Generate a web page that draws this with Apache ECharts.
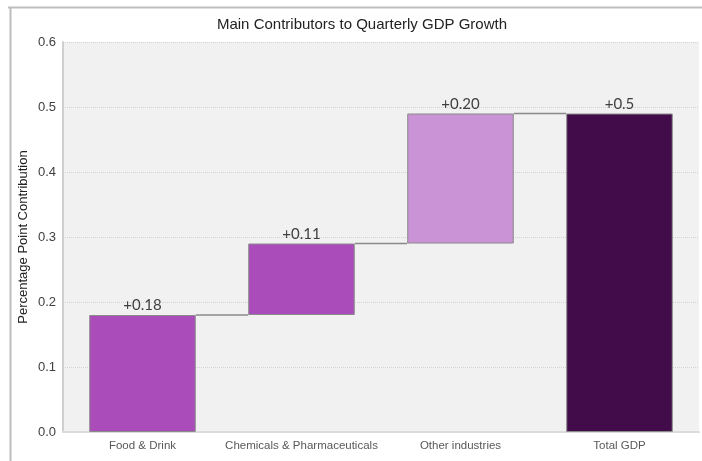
<!DOCTYPE html>
<html><head><meta charset="utf-8">
<script src="https://cdn.jsdelivr.net/npm/echarts@6/dist/echarts.min.js"></script>
<style>html,body{margin:0;padding:0;background:#fff}#c{width:702px;height:461px}</style>
</head><body><div id="c"></div>
<script>
const categories = ['Food & Drink', 'Chemicals & Pharmaceuticals', 'Other industries', 'Total GDP'];
const contributions = [0.18, 0.11, 0.20];
const totalValue = 0.49;
const labelTexts = ['+0.18', '+0.11', '+0.20', '+0.5'];
const barColors = ['#AA4DBA', '#AA4DBA', '#C993D5', '#420C4A'];
const yTicks = [0, 0.1, 0.2, 0.3, 0.4, 0.5, 0.6];

// waterfall bases and tops
const bases = [];
const heights = [];
let cum = 0;
contributions.forEach(v => { bases.push(cum); heights.push(v); cum += v; });
bases.push(0); heights.push(totalValue);
const tops = bases.map((b, i) => b + heights[i]);

const chart = echarts.init(document.getElementById('c'), null, {renderer: 'canvas'});
chart.setOption({
  animation: false,
  backgroundColor: '#fff',
  title: {
    text: 'Main Contributors to Quarterly GDP Growth',
    left: 357, top: 12, textAlign: 'center',
    textStyle: {fontFamily: 'Liberation Sans', fontSize: 15, fontWeight: 'normal', color: '#222'}
  },
  graphic: [
    {type: 'line', shape: {x1: 8, y1: 7.5, x2: 702, y2: 7.5}, style: {stroke: '#bdbdbd', lineWidth: 2}, z: 10},
    {type: 'line', shape: {x1: 10.5, y1: 7, x2: 10.5, y2: 461}, style: {stroke: '#bdbdbd', lineWidth: 2}, z: 10}
  ],
  grid: {left: 63, top: 42, right: 3, bottom: 29, show: true, backgroundColor: '#f1f1f1', borderWidth: 0},
  xAxis: {
    type: 'category', data: categories,
    axisLine: {show: true, lineStyle: {color: '#dcdcdc', width: 2}},
    axisTick: {show: false},
    axisLabel: {fontFamily: 'Liberation Sans', fontSize: 11.5, color: '#595959', margin: 8, interval: 0}
  },
  yAxis: {
    type: 'value', min: 0, max: 0.6, interval: 0.1,
    name: 'Percentage Point Contribution', nameLocation: 'middle', nameGap: 33, nameRotate: 90,
    nameMoveOverlap: false,
    nameTextStyle: {fontFamily: 'Liberation Sans', fontSize: 13, color: '#222'},
    axisLine: {show: true, lineStyle: {color: '#cfcfcf', width: 2}},
    axisTick: {show: false},
    axisLabel: {fontFamily: 'Liberation Sans', fontSize: 13, color: '#404040', margin: 7,
      formatter: v => v.toFixed(1)},
    splitLine: {show: true, lineStyle: {color: '#d2d2d2', type: 'dotted', width: 1}}
  },
  series: [
    {
      type: 'bar', stack: 'w', barWidth: '67%', silent: true,
      itemStyle: {color: 'transparent', borderWidth: 0},
      data: bases
    },
    {
      type: 'bar', stack: 'w', barWidth: '67%',
      data: heights.map((h, i) => ({value: h, itemStyle: {color: barColors[i]}})),
      itemStyle: {borderColor: '#8a8a8a', borderWidth: 1},
      label: {
        show: true, position: 'top', distance: 2,
        formatter: p => labelTexts[p.dataIndex],
        fontFamily: 'Lato', fontSize: 15, color: '#404040'
      }
    },
    {
      type: 'custom', z: 1,
      data: tops.slice(0, tops.length - 1).map((t, i) => [i, t]),
      renderItem: function (params, api) {
        const i = api.value(0), t = api.value(1);
        const p1 = api.coord([i, t]);
        const p2 = api.coord([i + 1, t]);
        const bw = api.size([1, 0])[0] * 0.67;
        return {
          type: 'line',
          shape: {x1: p1[0] + bw / 2, y1: p1[1], x2: p2[0] - bw / 2, y2: p2[1]},
          style: {stroke: '#8a8a8a', lineWidth: 1.5}
        };
      }
    }
  ]
});
</script></body></html>
